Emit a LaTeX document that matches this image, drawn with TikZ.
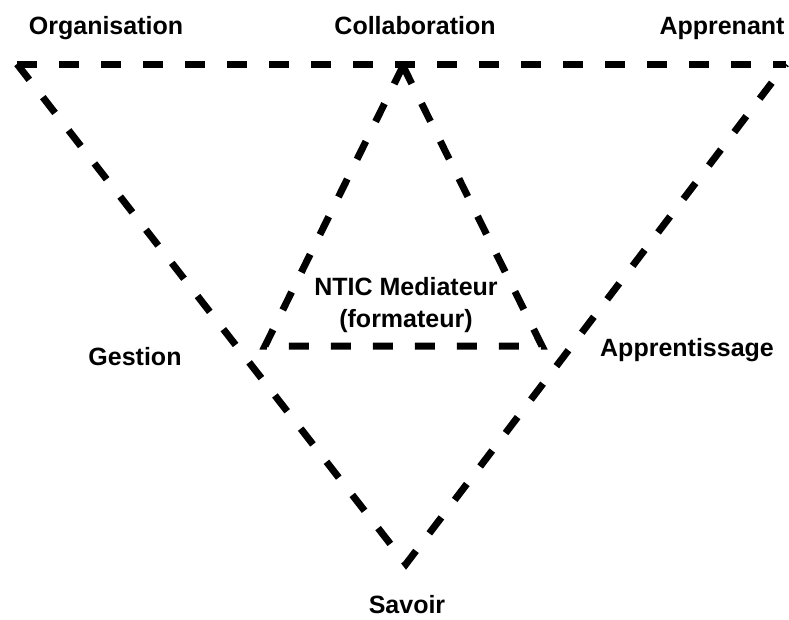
\documentclass[tikz,border=0pt]{standalone}
\usepackage{fontspec}
\setmainfont{Liberation Sans}
\begin{document}
\begin{tikzpicture}[x=1pt,y=-1pt,
  edge/.style={line width=7pt, dash pattern=on 20pt off 22pt},
  lbl/.style={font=\bfseries\fontsize{25}{30}\selectfont, inner sep=0pt, anchor=base}]
\useasboundingbox (0,0) rectangle (789,619);
% vertices of the outer triangle
\coordinate (org) at (17,64);
\coordinate (app) at (786,64);
\coordinate (sav) at (406,564);
% vertices of the inner triangle
\coordinate (col) at (403,66);
\coordinate (nl) at (265,346);
\coordinate (nr) at (542,346);
% outer triangle: top edge, then both arms as one path through the lower vertex
\draw[edge] (org) -- (app);
\draw[edge, line join=miter] (org) -- (sav) -- (app);
% inner triangle
\draw[edge] (col) -- (nl) -- (nr) -- cycle;
% labels
\node[lbl] (lorg) at (106,34) {Organisation};
\node[lbl] (lcol) at (415,34) {Collaboration};
\node[lbl] (lapp) at (722,34) {Apprenant};
\node[lbl] (lges) at (135,365) {Gestion};
\node[lbl] (lapr) at (687,356) {Apprentissage};
\node[lbl] (lntic) at (406,295) {NTIC Mediateur};
\node[lbl] (lfor) at (406,327) {(formateur)};
\node[lbl] (lsav) at (407,613) {Savoir};
\end{tikzpicture}
\end{document}
